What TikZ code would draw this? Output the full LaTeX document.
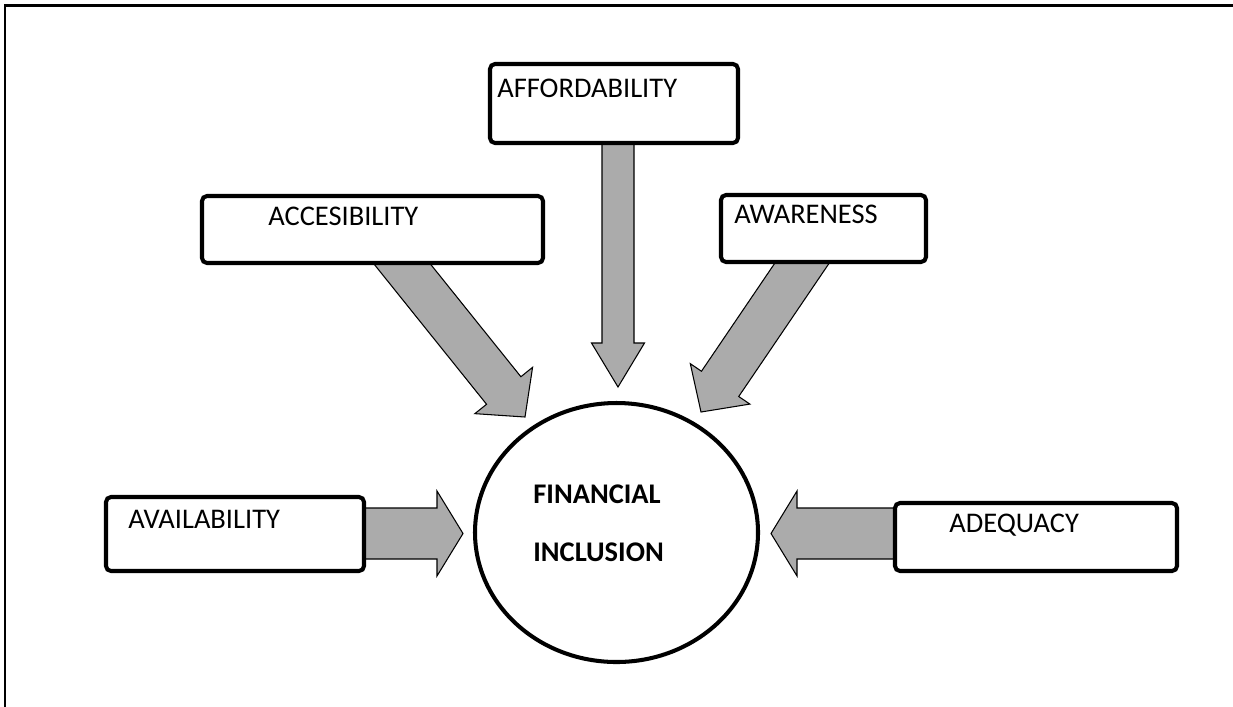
\documentclass[tikz,border=0pt]{standalone}
\usepackage{fontspec}
\setmainfont{Carlito}
\usetikzlibrary{calc,shapes.geometric}
\pgfdeclarelayer{background}
\pgfsetlayers{background,main}
\definecolor{arrowgray}{RGB}{171,171,171}

% block arrow: #1 start, #2 tip, #3 half shaft, #4 half head, #5 head length
\newcommand{\blockarrow}[5]{%
  \coordinate (ba-s) at (#1);
  \coordinate (ba-e) at (#2);
  \coordinate (ba-h) at ($(ba-e)!#5!(ba-s)$);
  \draw[arrowdecorate] ($(ba-s)!#3!90:(ba-e)$) -- ($(ba-h)!#3!90:(ba-e)$)
    -- ($(ba-h)!#4!90:(ba-e)$) -- (ba-e) -- ($(ba-h)!#4!-90:(ba-e)$)
    -- ($(ba-h)!#3!-90:(ba-e)$) -- ($(ba-s)!#3!-90:(ba-e)$) -- cycle;
}

\begin{document}
\begin{tikzpicture}[x=0.2mm,y=-0.2mm,
  boxdecorate/.style={shape=rectangle,rounded corners=1mm,draw,line width=2.3pt,fill=white,inner sep=0pt},
  circledecorate/.style={shape=ellipse,draw,line width=2.3pt,fill=white,inner sep=0pt},
  textdecorate/.style={inner sep=0pt,anchor=base west,font=\fontsize{16.2}{19}\selectfont},
  arrowdecorate/.style={draw,fill=arrowgray,line width=0.6pt,line join=miter}]
\useasboundingbox (0,0) rectangle (1233,706);
%% frame
\draw[line width=1.7pt] (5,720) -- (5,5) -- (1245,5);
%% boxes
\foreach \nodename/\nodelabel/\x/\y/\w/\h/\dx/\dy in {
  aff/AFFORDABILITY/614/103.5/248/79/9/36, acc/ACCESIBILITY/372.5/229.5/341/67/68/32,
  awa/AWARENESS/823.5/228.5/205/67/15/31, ava/AVAILABILITY/235/534/258/74/24/34,
  ade/ADEQUACY/1036/537/282/68/56/32} {
  \node (\nodename) at (\x,\y) [boxdecorate,minimum width=\w*0.2mm,minimum height=\h*0.2mm] {};
  \node (\nodename-text) [textdecorate] at ([shift={(\dx,\dy)}]\nodename.north west) {\nodelabel};
}
%% centre
\node (fi) at (616.5,532.5) [circledecorate,minimum width=283*0.2mm,minimum height=259*0.2mm] {};
\node (fi-top) [textdecorate,font=\fontsize{16.2}{19}\selectfont\bfseries] at (533,503) {FINANCIAL};
\node (fi-bottom) [textdecorate,font=\fontsize{16.2}{19}\selectfont\bfseries] at (533,561) {INCLUSION};
%% arrows
\coordinate (tip-aff) at (618,387);
\coordinate (tip-acc) at (525,417);
\coordinate (tip-awa) at (701,412);
\coordinate (tip-ava) at (463,533.5);
\coordinate (tip-ade) at (771,533.5);
\begin{pgfonlayer}{background}
\blockarrow{[shift={(4,0)}]aff.center}{tip-aff}{3.2mm}{5.3mm}{8.8mm}
\blockarrow{[shift={(2,0)}]acc.center}{tip-acc}{4.4mm}{7.4mm}{6.8mm}
\blockarrow{[shift={(2,0)}]awa.center}{tip-awa}{4.5mm}{7.2mm}{6.8mm}
\blockarrow{[shift={(0,-0.5)}]ava.center}{tip-ava}{5.1mm}{8.5mm}{5.2mm}
\blockarrow{[shift={(0,-3.5)}]ade.center}{tip-ade}{5.1mm}{8.5mm}{5.2mm}
\end{pgfonlayer}
\end{tikzpicture}
\end{document}
